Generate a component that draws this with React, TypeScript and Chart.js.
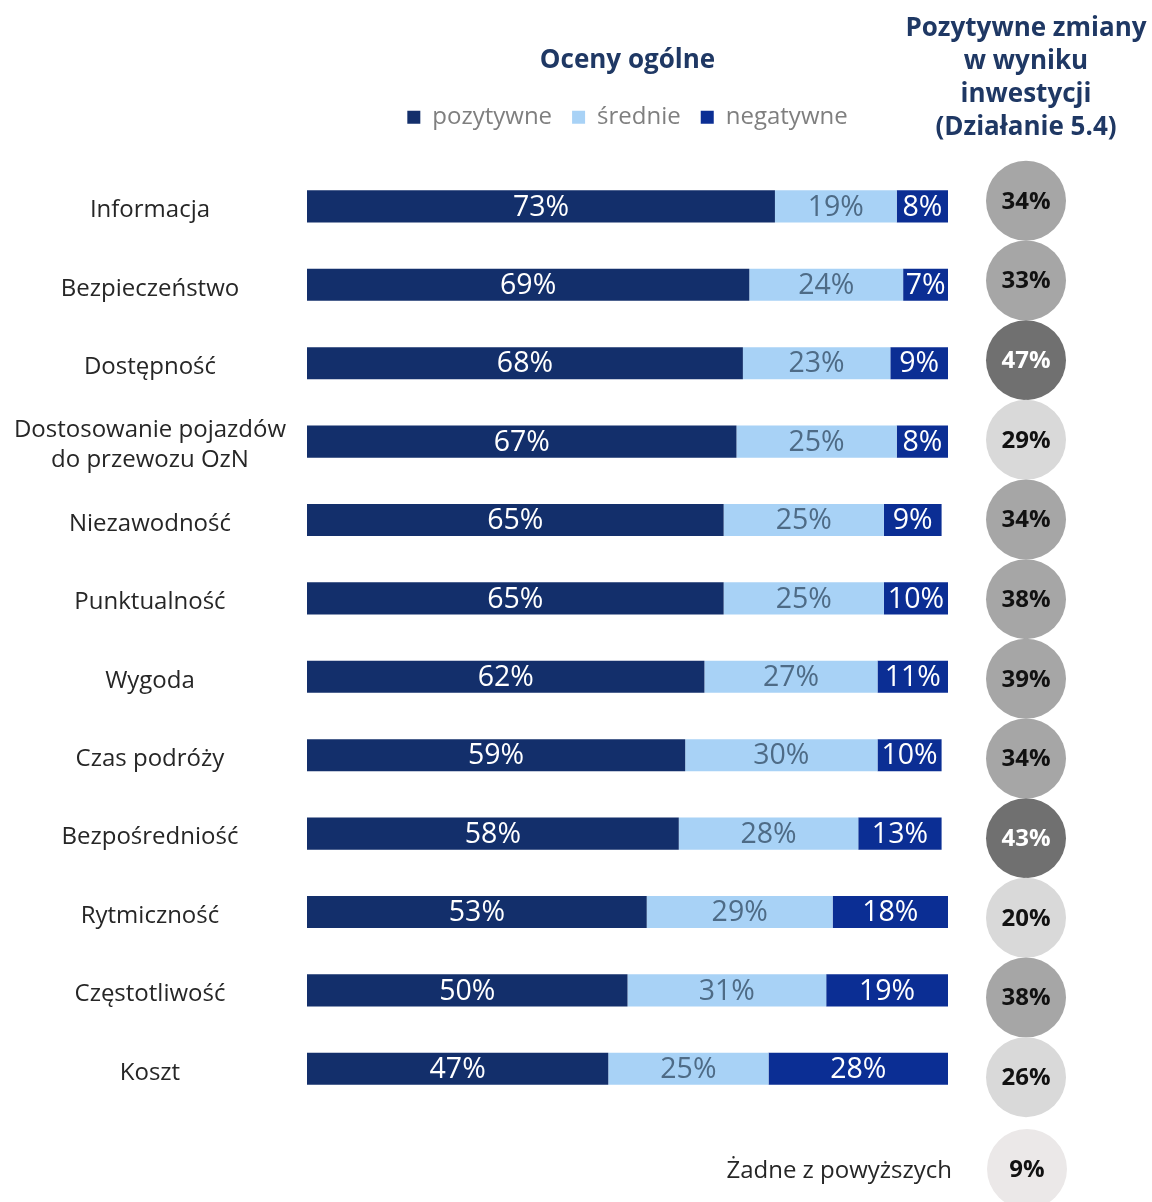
import React, { useEffect, useRef } from 'react';
import { Chart, registerables } from 'chart.js';

Chart.register(...registerables);

// ---- data ----
const categories: (string | string[])[] = [
  'Informacja',
  'Bezpieczeństwo',
  'Dostępność',
  ['Dostosowanie pojazdów', 'do przewozu OzN'],
  'Niezawodność',
  'Punktualność',
  'Wygoda',
  'Czas podróży',
  'Bezpośredniość',
  'Rytmiczność',
  'Częstotliwość',
  'Koszt',
];
const seriesNames = ['pozytywne', 'średnie', 'negatywne'];
const pozytywne = [73, 69, 68, 67, 65, 65, 62, 59, 58, 53, 50, 47];
const srednie = [19, 24, 23, 25, 25, 25, 27, 30, 28, 29, 31, 25];
const negatywne = [8, 7, 9, 8, 9, 10, 11, 10, 13, 18, 19, 28];

const mainTitle = 'Oceny ogólne';
const zmianyTitle = ['Pozytywne zmiany', 'w wyniku', 'inwestycji', '(Działanie 5.4)'];
const zmiany = [34, 33, 47, 29, 34, 38, 39, 34, 43, 20, 38, 26];
const noneLabel = 'Żadne z powyższych';
const noneValue = [9];

// ---- styles ----
const FONT = "'Open Sans', 'Noto Sans', sans-serif";
const NAVY = '#1f3864';
const LABEL = '#262626';
const COLORS = ['#132f6b', '#a8d2f6', '#0b2e94'];
const VALUE_COLORS = ['#ffffff', '#4e6b86', '#ffffff'];

Chart.defaults.font.family = FONT;

function circleColor(v: number) {
  if (v >= 40) return '#707070';
  if (v >= 30) return '#a6a6a6';
  if (v >= 15) return '#d9d9d9';
  return '#ebe8e8';
}
function circleText(v: number) {
  return v >= 40 ? '#ffffff' : '#111111';
}

const barLabelsPlugin = {
  id: 'barLabels',
  afterDatasetsDraw(chart: any) {
    const ctx = chart.ctx;
    ctx.save();
    ctx.font = `28.5px ${FONT}`;
    ctx.textAlign = 'center';
    ctx.textBaseline = 'middle';
    chart.data.datasets.forEach((ds: any, di: number) => {
      const meta = chart.getDatasetMeta(di);
      meta.data.forEach((el: any, i: number) => {
        const v = ds.data[i];
        if (v == null) return;
        const { x, y, base } = el.getProps(['x', 'y', 'base'], true);
        ctx.fillStyle = VALUE_COLORS[di];
        ctx.fillText(`${v}%`, (x + base) / 2, y + 1);
      });
    });
    ctx.restore();
  },
};

function makeCircleLabels(values: number[]) {
  return {
    id: 'circleLabels',
    afterDatasetsDraw(chart: any) {
      const ctx = chart.ctx;
      ctx.save();
      ctx.font = `bold 24px ${FONT}`;
      ctx.textAlign = 'center';
      ctx.textBaseline = 'middle';
      const meta = chart.getDatasetMeta(0);
      meta.data.forEach((el: any, i: number) => {
        const v = values[i];
        ctx.fillStyle = circleText(v);
        ctx.fillText(`${v}%`, el.x, el.y + 1);
      });
      ctx.restore();
    },
  };
}

function circleConfig(values: number[], yLabels: any[], extra: any) {
  return {
    type: 'scatter' as const,
    data: {
      datasets: [
        {
          data: values.map((_, i) => ({ x: 0, y: i })),
          pointRadius: 40,
          pointHoverRadius: 40,
          pointBorderWidth: 0,
          pointBackgroundColor: values.map(circleColor),
          clip: false as any,
        },
      ],
    },
    plugins: [makeCircleLabels(values)],
    options: {
      responsive: false,
      animation: false as const,
      events: [],
      layout: { autoPadding: false, padding: extra.padding },
      plugins: {
        legend: { display: false },
        tooltip: { enabled: false },
        title: extra.title || { display: false },
      },
      scales: {
        x: { type: 'category' as const, labels: ['col'], display: false, offset: true },
        y: extra.yAxis(yLabels),
      },
    },
  };
}

export default function App() {
  const barRef = useRef<HTMLCanvasElement>(null);
  const circRef = useRef<HTMLCanvasElement>(null);
  const noneRef = useRef<HTMLCanvasElement>(null);

  useEffect(() => {
    const charts: Chart[] = [];
    const bar = new Chart(barRef.current!, {
      type: 'bar',
      data: {
        labels: categories as any,
        datasets: [pozytywne, srednie, negatywne].map((d, i) => ({
          label: seriesNames[i],
          data: d,
          backgroundColor: COLORS[i],
          borderWidth: 0,
          categoryPercentage: 1,
          barPercentage: 0.41,
        })),
      },
      plugins: [barLabelsPlugin],
      options: {
        indexAxis: 'y',
        responsive: false,
        animation: false,
        events: [],
        layout: { padding: { top: 0, right: 12, bottom: 12, left: 0 } },
        plugins: {
          tooltip: { enabled: false },
          title: {
            display: true,
            text: mainTitle,
            fullSize: false,
            color: NAVY,
            font: { size: 26, weight: 'bold', lineHeight: 1.2 },
            padding: { top: 45, bottom: 9 },
          },
          legend: {
            display: true,
            fullSize: false,
            labels: {
              boxWidth: 13,
              boxHeight: 13,
              padding: 20,
              color: '#7f7f7f',
              font: { size: 24 },
            },
          },
        },
        scales: {
          x: {
            stacked: true,
            min: 0,
            max: 100,
            position: 'top',
            ticks: { display: false },
            grid: { display: false, drawTicks: false },
            border: { display: false },
            afterFit: (axis: any) => {
              axis.height = 28;
            },
          },
          y: {
            stacked: true,
            grid: { display: false, drawTicks: false },
            border: { display: false },
            ticks: {
              crossAlign: 'center',
              padding: 21,
              labelOffset: 4,
              color: LABEL,
              font: { size: 24, lineHeight: 1.25 },
            },
            afterFit: (axis: any) => {
              axis.width = 307;
            },
          },
        },
      },
    } as any);
    charts.push(bar);

    const circ = new Chart(
      circRef.current!,
      circleConfig(zmiany, categories, {
        padding: { top: 0, right: 0, bottom: 8, left: 0 },
        title: {
          display: true,
          text: zmianyTitle,
          color: NAVY,
          font: { size: 26, weight: 'bold', lineHeight: 1.27 },
          padding: { top: 12, bottom: 16.9 },
        },
        yAxis: (labels: any[]) => ({
          type: 'category',
          labels,
          display: false,
          offset: true,
        }),
      }) as any
    );
    charts.push(circ);

    const none = new Chart(
      noneRef.current!,
      circleConfig(noneValue, [noneLabel], {
        padding: { top: 16, right: 62, bottom: 0, left: 0 },
        yAxis: (labels: any[]) => ({
          type: 'category',
          labels,
          offset: true,
          grid: { display: false, drawTicks: false },
          border: { display: false },
          ticks: { padding: 12, labelOffset: 2, color: LABEL, font: { size: 24 } },
          afterFit: (axis: any) => {
            axis.width = 364;
            axis.paddingTop = 0;
            axis.paddingBottom = 0;
          },
        }),
      }) as any
    );
    charts.push(none);

    return () => charts.forEach((c) => c.destroy());
  }, []);

  return (
    <div
      style={{
        position: 'absolute',
        left: 0,
        top: 0,
        width: 1152,
        height: 1202,
        overflow: 'hidden',
        background: '#ffffff',
      }}
    >
      <canvas
        ref={barRef}
        width={960}
        height={1144}
        style={{ position: 'absolute', left: 0, top: 0, width: 960, height: 1144 }}
      />
      <canvas
        ref={circRef}
        width={252}
        height={1125}
        style={{ position: 'absolute', left: 900, top: 0, width: 252, height: 1125 }}
      />
      <canvas
        ref={noneRef}
        width={552}
        height={82}
        style={{ position: 'absolute', left: 600, top: 1120, width: 552, height: 82 }}
      />
    </div>
  );
}
